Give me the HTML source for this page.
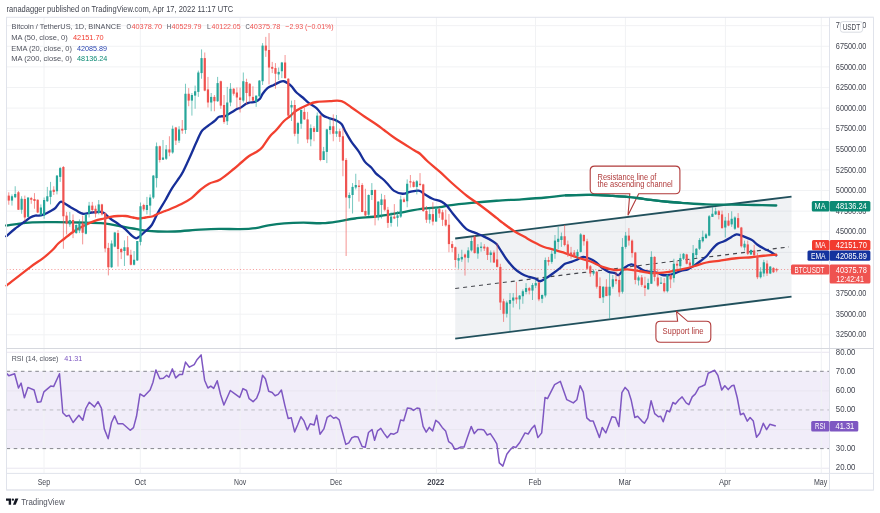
<!DOCTYPE html>
<html><head><meta charset="utf-8"><style>
html,body{margin:0;padding:0;background:#fff;width:880px;height:513px;overflow:hidden}
svg{display:block;position:absolute;left:0;top:0;will-change:transform}
text{font-family:"Liberation Sans", sans-serif}
</style></head><body>
<svg width="880" height="513" viewBox="0 0 880 513">
<defs><clipPath id="cp"><rect x="6.5" y="17.8" width="823" height="330.5"/></clipPath></defs>
<rect x="6.5" y="371.30" width="823.0" height="77.30" fill="#f1edf9"/>
<line x1="6.5" x2="829.5" y1="25.65" y2="25.65" stroke="#f1f2f4" stroke-width="1"/>
<line x1="6.5" x2="829.5" y1="46.26" y2="46.26" stroke="#f1f2f4" stroke-width="1"/>
<line x1="6.5" x2="829.5" y1="66.87" y2="66.87" stroke="#f1f2f4" stroke-width="1"/>
<line x1="6.5" x2="829.5" y1="87.48" y2="87.48" stroke="#f1f2f4" stroke-width="1"/>
<line x1="6.5" x2="829.5" y1="108.09" y2="108.09" stroke="#f1f2f4" stroke-width="1"/>
<line x1="6.5" x2="829.5" y1="128.70" y2="128.70" stroke="#f1f2f4" stroke-width="1"/>
<line x1="6.5" x2="829.5" y1="149.31" y2="149.31" stroke="#f1f2f4" stroke-width="1"/>
<line x1="6.5" x2="829.5" y1="169.92" y2="169.92" stroke="#f1f2f4" stroke-width="1"/>
<line x1="6.5" x2="829.5" y1="190.53" y2="190.53" stroke="#f1f2f4" stroke-width="1"/>
<line x1="6.5" x2="829.5" y1="211.14" y2="211.14" stroke="#f1f2f4" stroke-width="1"/>
<line x1="6.5" x2="829.5" y1="231.75" y2="231.75" stroke="#f1f2f4" stroke-width="1"/>
<line x1="6.5" x2="829.5" y1="252.36" y2="252.36" stroke="#f1f2f4" stroke-width="1"/>
<line x1="6.5" x2="829.5" y1="272.97" y2="272.97" stroke="#f1f2f4" stroke-width="1"/>
<line x1="6.5" x2="829.5" y1="293.58" y2="293.58" stroke="#f1f2f4" stroke-width="1"/>
<line x1="6.5" x2="829.5" y1="314.19" y2="314.19" stroke="#f1f2f4" stroke-width="1"/>
<line x1="6.5" x2="829.5" y1="334.80" y2="334.80" stroke="#f1f2f4" stroke-width="1"/>
<line x1="6.5" x2="829.5" y1="352.28" y2="352.28" stroke="#e9e6f0" stroke-width="1"/>
<line x1="6.5" x2="829.5" y1="390.93" y2="390.93" stroke="#e9e6f0" stroke-width="1"/>
<line x1="6.5" x2="829.5" y1="429.58" y2="429.58" stroke="#e9e6f0" stroke-width="1"/>
<line x1="6.5" x2="829.5" y1="468.23" y2="468.23" stroke="#e9e6f0" stroke-width="1"/>
<line x1="44.00" x2="44.00" y1="17.3" y2="473.4" stroke="#f1f2f4" stroke-width="1"/>
<line x1="140.30" x2="140.30" y1="17.3" y2="473.4" stroke="#f1f2f4" stroke-width="1"/>
<line x1="240.10" x2="240.10" y1="17.3" y2="473.4" stroke="#f1f2f4" stroke-width="1"/>
<line x1="336.40" x2="336.40" y1="17.3" y2="473.4" stroke="#f1f2f4" stroke-width="1"/>
<line x1="436.40" x2="436.40" y1="17.3" y2="473.4" stroke="#f1f2f4" stroke-width="1"/>
<line x1="535.50" x2="535.50" y1="17.3" y2="473.4" stroke="#f1f2f4" stroke-width="1"/>
<line x1="625.40" x2="625.40" y1="17.3" y2="473.4" stroke="#f1f2f4" stroke-width="1"/>
<line x1="725.40" x2="725.40" y1="17.3" y2="473.4" stroke="#f1f2f4" stroke-width="1"/>
<line x1="821.30" x2="821.30" y1="17.3" y2="473.4" stroke="#f1f2f4" stroke-width="1"/>
<line x1="6.5" x2="829.5" y1="371.30" y2="371.30" stroke="#85878e" stroke-width="1" stroke-dasharray="3.6 3.6"/>
<line x1="6.5" x2="829.5" y1="409.95" y2="409.95" stroke="#bdbec3" stroke-width="1" stroke-dasharray="3.6 3.6"/>
<line x1="6.5" x2="829.5" y1="448.60" y2="448.60" stroke="#85878e" stroke-width="1" stroke-dasharray="3.6 3.6"/>
<polygon points="455.2,238.51 791.5,196.57 791.5,296.55 455.2,338.72" fill="rgb(105,125,150)" fill-opacity="0.1"/>
<line x1="6.5" x2="829.5" y1="269.5" y2="269.5" stroke="#ef5350" stroke-width="1" stroke-dasharray="1 2.2" opacity="0.6"/>
<line x1="455.2" y1="238.51" x2="791.5" y2="196.57" stroke="#21505c" stroke-width="1.8"/>
<line x1="455.2" y1="338.72" x2="791.5" y2="296.55" stroke="#21505c" stroke-width="1.8"/>
<line x1="455.2" y1="288.51" x2="789.0" y2="246.88" stroke="#45474d" stroke-width="1.1" stroke-dasharray="4 4"/>
<path d="M6.25,225.50 C10.04,225.02 21.04,223.15 29.00,222.60 C36.96,222.05 45.67,222.22 54.00,222.20 C62.33,222.18 70.67,222.32 79.00,222.50 C87.33,222.68 97.08,222.68 104.00,223.30 C110.92,223.93 115.67,225.38 120.50,226.25 C125.33,227.12 128.83,227.78 133.00,228.50 C137.17,229.22 141.33,230.10 145.50,230.60 C149.67,231.10 153.08,231.35 158.00,231.50 C162.92,231.65 168.00,231.80 175.00,231.50 C182.00,231.20 192.65,230.13 200.00,229.70 C207.35,229.27 212.47,229.00 219.10,228.90 C225.73,228.80 233.70,229.23 239.80,229.10 C245.90,228.97 250.93,228.72 255.70,228.10 C260.47,227.48 263.63,226.18 268.40,225.40 C273.17,224.62 278.47,223.85 284.30,223.40 C290.13,222.95 297.03,222.73 303.40,222.70 C309.77,222.67 316.40,223.47 322.50,223.20 C328.60,222.93 334.58,221.88 340.00,221.10 C345.42,220.32 348.33,219.35 355.00,218.50 C361.67,217.65 371.67,217.12 380.00,216.00 C388.33,214.88 398.12,212.98 405.00,211.80 C411.88,210.62 415.42,209.68 421.25,208.90 C427.08,208.12 435.38,207.68 440.00,207.10 C444.62,206.52 443.75,206.10 449.00,205.40 C454.25,204.70 463.58,203.68 471.50,202.90 C479.42,202.12 488.17,201.35 496.50,200.75 C504.83,200.15 513.27,199.84 521.50,199.30 C529.73,198.76 538.65,198.15 545.90,197.50 C553.15,196.85 557.57,195.85 565.00,195.40 C572.43,194.95 582.55,194.72 590.50,194.80 C598.45,194.88 605.55,195.45 612.70,195.90 C619.85,196.35 627.03,196.83 633.40,197.50 C639.77,198.17 644.80,199.15 650.90,199.90 C657.00,200.65 664.90,201.52 670.00,202.00 C675.10,202.48 675.42,202.40 681.50,202.80 C687.58,203.20 698.17,204.10 706.50,204.40 C714.83,204.70 723.58,204.50 731.50,204.60 C739.42,204.70 746.54,204.85 754.00,205.00 C761.46,205.15 772.54,205.42 776.25,205.50" fill="none" stroke="#0b7d69" stroke-width="2.3" stroke-linejoin="round" stroke-linecap="round"/>
<path d="M6.25,236.25 C7.71,235.00 11.83,231.25 15.00,228.75 C18.17,226.25 22.71,223.12 25.25,221.25 C27.79,219.38 28.58,218.44 30.25,217.50 C31.92,216.56 33.79,215.92 35.25,215.60 C36.71,215.28 37.54,215.80 39.00,215.60 C40.46,215.40 42.12,215.12 44.00,214.40 C45.88,213.68 48.38,212.30 50.25,211.25 C52.12,210.20 53.58,209.66 55.25,208.10 C56.92,206.54 58.79,202.73 60.25,201.90 C61.71,201.07 62.33,202.27 64.00,203.10 C65.67,203.93 68.17,205.65 70.25,206.90 C72.33,208.15 74.38,209.46 76.50,210.60 C78.62,211.74 80.46,213.43 83.00,213.75 C85.54,214.07 88.83,212.81 91.75,212.50 C94.67,212.19 98.42,211.80 100.50,211.90 C102.58,212.00 102.58,211.96 104.25,213.10 C105.92,214.24 108.21,216.97 110.50,218.75 C112.79,220.53 115.50,221.97 118.00,223.75 C120.50,225.53 123.21,227.43 125.50,229.40 C127.79,231.38 130.08,234.15 131.75,235.60 C133.42,237.05 134.46,237.78 135.50,238.10 C136.54,238.42 136.33,238.64 138.00,237.50 C139.67,236.36 143.21,233.33 145.50,231.25 C147.79,229.17 149.67,228.12 151.75,225.00 C153.83,221.88 155.71,216.67 158.00,212.50 C160.29,208.33 163.15,204.07 165.50,200.00 C167.85,195.93 169.43,192.37 172.10,188.10 C174.77,183.83 179.10,178.35 181.50,174.40 C183.90,170.45 184.88,167.80 186.50,164.40 C188.12,161.00 189.62,157.65 191.25,154.00 C192.88,150.35 194.58,146.18 196.25,142.50 C197.92,138.82 199.79,134.30 201.25,131.90 C202.71,129.50 203.54,129.35 205.00,128.10 C206.46,126.85 208.33,125.65 210.00,124.40 C211.67,123.15 213.54,121.85 215.00,120.60 C216.46,119.35 217.60,117.62 218.75,116.90 C219.90,116.18 220.86,116.36 221.90,116.25 C222.94,116.14 223.44,116.88 225.00,116.25 C226.56,115.62 229.17,113.75 231.25,112.50 C233.33,111.25 236.04,109.48 237.50,108.75 C238.96,108.02 238.54,108.93 240.00,108.10 C241.46,107.27 244.58,104.68 246.25,103.75 C247.92,102.82 248.54,102.81 250.00,102.50 C251.46,102.19 253.33,102.53 255.00,101.90 C256.67,101.28 258.75,100.07 260.00,98.75 C261.25,97.43 261.25,95.78 262.50,94.00 C263.75,92.22 265.62,89.60 267.50,88.10 C269.38,86.60 271.67,86.03 273.75,85.00 C275.83,83.97 278.33,82.53 280.00,81.90 C281.67,81.28 282.50,81.05 283.75,81.25 C285.00,81.45 286.21,82.27 287.50,83.10 C288.79,83.93 290.00,84.68 291.50,86.25 C293.00,87.82 294.62,90.62 296.50,92.50 C298.38,94.38 300.67,95.73 302.75,97.50 C304.83,99.27 306.71,101.33 309.00,103.10 C311.29,104.87 314.25,106.12 316.50,108.10 C318.75,110.08 320.42,113.33 322.50,115.00 C324.58,116.67 326.67,117.17 329.00,118.10 C331.33,119.03 334.42,119.62 336.50,120.60 C338.58,121.58 340.04,122.22 341.50,124.00 C342.96,125.78 343.58,128.27 345.25,131.25 C346.92,134.23 349.21,138.46 351.50,141.90 C353.79,145.34 356.75,148.57 359.00,151.90 C361.25,155.23 362.96,159.30 365.00,161.90 C367.04,164.50 369.48,165.63 371.25,167.50 C373.02,169.37 373.73,171.22 375.60,173.10 C377.48,174.97 380.52,176.97 382.50,178.75 C384.48,180.53 385.62,181.78 387.50,183.75 C389.38,185.72 391.25,188.93 393.75,190.60 C396.25,192.27 399.79,193.53 402.50,193.75 C405.21,193.97 407.29,192.43 410.00,191.90 C412.71,191.38 416.25,190.18 418.75,190.60 C421.25,191.02 422.71,193.04 425.00,194.40 C427.29,195.76 429.75,197.55 432.50,198.75 C435.25,199.95 439.17,200.49 441.50,201.60 C443.83,202.71 444.62,203.42 446.50,205.40 C448.38,207.38 450.67,210.90 452.75,213.50 C454.83,216.10 456.71,218.40 459.00,221.00 C461.29,223.60 463.79,227.12 466.50,229.10 C469.21,231.08 472.33,231.65 475.25,232.90 C478.17,234.15 481.29,235.35 484.00,236.60 C486.71,237.85 489.42,239.15 491.50,240.40 C493.58,241.65 494.83,242.23 496.50,244.10 C498.17,245.97 499.83,249.08 501.50,251.60 C503.17,254.12 504.42,256.45 506.50,259.20 C508.58,261.95 511.50,265.68 514.00,268.10 C516.50,270.53 519.00,272.28 521.50,273.75 C524.00,275.22 526.71,276.11 529.00,276.90 C531.29,277.69 533.42,277.77 535.25,278.50 C537.08,279.23 538.17,281.32 540.00,281.25 C541.83,281.18 544.17,279.35 546.25,278.10 C548.33,276.85 550.21,275.42 552.50,273.75 C554.79,272.08 557.92,269.77 560.00,268.10 C562.08,266.43 563.12,264.78 565.00,263.75 C566.88,262.72 569.17,262.62 571.25,261.90 C573.33,261.17 575.52,260.23 577.50,259.40 C579.48,258.57 581.02,257.01 583.10,256.90 C585.18,256.79 587.81,257.82 590.00,258.75 C592.19,259.68 594.17,260.94 596.25,262.50 C598.33,264.06 600.42,266.53 602.50,268.10 C604.58,269.67 606.67,271.07 608.75,271.90 C610.83,272.73 613.33,272.58 615.00,273.10 C616.67,273.62 617.08,275.93 618.75,275.00 C620.42,274.07 622.92,269.27 625.00,267.50 C627.08,265.73 629.17,264.50 631.25,264.40 C633.33,264.30 635.42,265.87 637.50,266.90 C639.58,267.93 641.62,269.77 643.75,270.60 C645.88,271.43 648.12,271.58 650.25,271.90 C652.38,272.22 654.42,271.98 656.50,272.50 C658.58,273.02 660.67,274.58 662.75,275.00 C664.83,275.42 666.92,275.32 669.00,275.00 C671.08,274.68 673.17,273.83 675.25,273.10 C677.33,272.37 679.42,271.22 681.50,270.60 C683.58,269.98 685.67,270.23 687.75,269.40 C689.83,268.57 691.92,266.96 694.00,265.60 C696.08,264.24 698.17,262.81 700.25,261.25 C702.33,259.69 704.62,258.12 706.50,256.25 C708.38,254.38 709.62,252.08 711.50,250.00 C713.38,247.92 715.67,245.21 717.75,243.75 C719.83,242.29 721.71,242.39 724.00,241.25 C726.29,240.11 729.42,238.04 731.50,236.90 C733.58,235.76 734.83,234.62 736.50,234.40 C738.17,234.18 739.62,234.98 741.50,235.60 C743.38,236.22 745.92,237.30 747.75,238.10 C749.58,238.90 750.88,239.29 752.50,240.40 C754.12,241.51 755.62,243.40 757.50,244.75 C759.38,246.10 761.67,247.36 763.75,248.50 C765.83,249.64 767.92,250.45 770.00,251.60 C772.08,252.75 775.21,254.77 776.25,255.40" fill="none" stroke="#172f99" stroke-width="2.3" stroke-linejoin="round" stroke-linecap="round"/>
<path d="M6.50,285.60 C10.42,282.55 24.00,271.80 30.00,267.30 C36.00,262.80 38.75,261.48 42.50,258.60 C46.25,255.72 49.92,252.47 52.50,250.00 C55.08,247.53 56.04,245.62 58.00,243.75 C59.96,241.88 62.17,240.42 64.25,238.75 C66.33,237.08 68.42,235.31 70.50,233.75 C72.58,232.19 74.67,230.65 76.75,229.40 C78.83,228.15 80.92,227.30 83.00,226.25 C85.08,225.20 87.17,224.04 89.25,223.10 C91.33,222.16 93.00,221.37 95.50,220.60 C98.00,219.83 101.75,219.12 104.25,218.50 C106.75,217.88 108.21,217.32 110.50,216.90 C112.79,216.48 115.50,216.15 118.00,216.00 C120.50,215.85 123.00,215.75 125.50,216.00 C128.00,216.25 130.92,217.08 133.00,217.50 C135.08,217.92 135.92,218.50 138.00,218.50 C140.08,218.50 143.00,217.88 145.50,217.50 C148.00,217.12 150.92,216.88 153.00,216.25 C155.08,215.62 156.12,214.58 158.00,213.75 C159.88,212.92 162.58,211.88 164.25,211.25 C165.92,210.62 165.12,211.21 168.00,210.00 C170.88,208.79 177.58,205.98 181.50,204.00 C185.42,202.02 188.38,200.43 191.50,198.10 C194.62,195.77 197.33,192.39 200.25,190.00 C203.17,187.61 205.67,185.52 209.00,183.75 C212.33,181.98 216.12,181.86 220.25,179.40 C224.38,176.94 230.25,171.82 233.75,169.00 C237.25,166.18 238.75,164.62 241.25,162.50 C243.75,160.38 246.04,158.12 248.75,156.25 C251.46,154.38 255.21,152.81 257.50,151.25 C259.79,149.69 260.42,149.40 262.50,146.90 C264.58,144.40 267.71,139.07 270.00,136.25 C272.29,133.43 273.96,132.50 276.25,130.00 C278.54,127.50 281.46,123.54 283.75,121.25 C286.04,118.96 287.88,118.04 290.00,116.25 C292.12,114.46 293.33,112.51 296.50,110.50 C299.67,108.49 305.67,105.62 309.00,104.20 C312.33,102.78 313.00,102.52 316.50,102.00 C320.00,101.48 325.83,101.23 330.00,101.10 C334.17,100.97 337.92,100.13 341.50,101.20 C345.08,102.27 347.75,104.99 351.50,107.50 C355.25,110.01 359.83,113.42 364.00,116.25 C368.17,119.08 373.17,122.21 376.50,124.50 C379.83,126.79 381.08,127.83 384.00,130.00 C386.92,132.17 389.04,134.17 394.00,137.50 C398.96,140.83 409.42,147.29 413.75,150.00 C418.08,152.71 417.71,151.88 420.00,153.75 C422.29,155.62 424.17,158.22 427.50,161.25 C430.83,164.28 435.75,168.11 440.00,171.90 C444.25,175.69 448.48,179.98 453.00,184.00 C457.52,188.02 462.98,192.75 467.10,196.00 C471.23,199.25 474.31,201.00 477.75,203.50 C481.19,206.00 484.62,208.60 487.75,211.00 C490.88,213.40 494.00,215.92 496.50,217.90 C499.00,219.88 499.83,220.72 502.75,222.90 C505.67,225.08 510.46,228.72 514.00,231.00 C517.54,233.28 520.67,234.72 524.00,236.60 C527.33,238.47 530.67,240.52 534.00,242.25 C537.33,243.98 540.92,245.81 544.00,247.00 C547.08,248.19 549.00,248.38 552.50,249.40 C556.00,250.42 560.83,251.75 565.00,253.10 C569.17,254.45 573.33,256.14 577.50,257.50 C581.67,258.86 585.83,259.68 590.00,261.25 C594.17,262.82 598.33,265.44 602.50,266.90 C606.67,268.36 610.83,269.58 615.00,270.00 C619.17,270.42 623.33,269.19 627.50,269.40 C631.67,269.61 636.25,270.65 640.00,271.25 C643.75,271.85 647.25,272.69 650.00,273.00 C652.75,273.31 653.33,273.28 656.50,273.10 C659.67,272.92 664.83,272.52 669.00,271.90 C673.17,271.28 677.33,270.34 681.50,269.40 C685.67,268.46 689.83,267.40 694.00,266.25 C698.17,265.10 702.33,263.41 706.50,262.50 C710.67,261.59 714.04,261.51 719.00,260.80 C723.96,260.09 730.88,258.84 736.25,258.25 C741.62,257.66 746.67,257.67 751.25,257.25 C755.83,256.83 759.58,256.17 763.75,255.75 C767.92,255.33 774.17,254.92 776.25,254.75" fill="none" stroke="#f2402f" stroke-width="2.3" stroke-linejoin="round" stroke-linecap="round"/>
<g clip-path="url(#cp)"><line x1="5.55" x2="5.55" y1="195.6" y2="217.5" stroke="#26a69a" stroke-width="1" stroke-opacity="0.62"/><rect x="4.45" y="200.0" width="2.2" height="12.00" fill="#26a69a"/><line x1="8.77" x2="8.77" y1="192.3" y2="204.75" stroke="#ef5350" stroke-width="1" stroke-opacity="0.62"/><rect x="7.67" y="195.6" width="2.2" height="5.00" fill="#ef5350"/><line x1="11.98" x2="11.98" y1="194.4" y2="205.6" stroke="#26a69a" stroke-width="1" stroke-opacity="0.62"/><rect x="10.88" y="196.25" width="2.2" height="4.35" fill="#26a69a"/><line x1="15.19" x2="15.19" y1="186.25" y2="198.1" stroke="#26a69a" stroke-width="1" stroke-opacity="0.62"/><rect x="14.09" y="194.0" width="2.2" height="3.25" fill="#26a69a"/><line x1="18.41" x2="18.41" y1="191.0" y2="210.0" stroke="#ef5350" stroke-width="1" stroke-opacity="0.62"/><rect x="17.31" y="192.25" width="2.2" height="17.50" fill="#ef5350"/><line x1="21.62" x2="21.62" y1="196.25" y2="213.75" stroke="#26a69a" stroke-width="1" stroke-opacity="0.62"/><rect x="20.52" y="198.75" width="2.2" height="11.00" fill="#26a69a"/><line x1="24.83" x2="24.83" y1="195.6" y2="221.25" stroke="#ef5350" stroke-width="1" stroke-opacity="0.62"/><rect x="23.73" y="199.0" width="2.2" height="18.50" fill="#ef5350"/><line x1="28.05" x2="28.05" y1="197.5" y2="217.5" stroke="#26a69a" stroke-width="1" stroke-opacity="0.62"/><rect x="26.95" y="197.5" width="2.2" height="19.40" fill="#26a69a"/><line x1="31.26" x2="31.26" y1="196.9" y2="203.75" stroke="#ef5350" stroke-width="1" stroke-opacity="0.62"/><rect x="30.16" y="198.1" width="2.2" height="1.65" fill="#ef5350"/><line x1="34.47" x2="34.47" y1="193.1" y2="208.75" stroke="#ef5350" stroke-width="1" stroke-opacity="0.62"/><rect x="33.37" y="199.0" width="2.2" height="2.00" fill="#ef5350"/><line x1="37.68" x2="37.68" y1="199.4" y2="213.1" stroke="#ef5350" stroke-width="1" stroke-opacity="0.62"/><rect x="36.58" y="199.75" width="2.2" height="12.75" fill="#ef5350"/><line x1="40.90" x2="40.90" y1="204.4" y2="216.9" stroke="#26a69a" stroke-width="1" stroke-opacity="0.62"/><rect x="39.80" y="207.5" width="2.2" height="7.50" fill="#26a69a"/><line x1="44.11" x2="44.11" y1="197.5" y2="218.75" stroke="#26a69a" stroke-width="1" stroke-opacity="0.62"/><rect x="43.01" y="200.0" width="2.2" height="15.60" fill="#26a69a"/><line x1="47.32" x2="47.32" y1="186.9" y2="201.9" stroke="#26a69a" stroke-width="1" stroke-opacity="0.62"/><rect x="46.22" y="196.25" width="2.2" height="5.00" fill="#26a69a"/><line x1="50.54" x2="50.54" y1="181.9" y2="204.4" stroke="#26a69a" stroke-width="1" stroke-opacity="0.62"/><rect x="49.44" y="190.6" width="2.2" height="6.30" fill="#26a69a"/><line x1="53.75" x2="53.75" y1="186.25" y2="195.0" stroke="#ef5350" stroke-width="1" stroke-opacity="0.62"/><rect x="52.65" y="189.75" width="2.2" height="2.15" fill="#ef5350"/><line x1="56.96" x2="56.96" y1="175.0" y2="194.4" stroke="#26a69a" stroke-width="1" stroke-opacity="0.62"/><rect x="55.86" y="175.6" width="2.2" height="15.65" fill="#26a69a"/><line x1="60.18" x2="60.18" y1="166.9" y2="181.9" stroke="#26a69a" stroke-width="1" stroke-opacity="0.62"/><rect x="59.08" y="168.1" width="2.2" height="8.80" fill="#26a69a"/><line x1="63.39" x2="63.39" y1="166.0" y2="248.75" stroke="#ef5350" stroke-width="1" stroke-opacity="0.62"/><rect x="62.29" y="167.0" width="2.2" height="49.25" fill="#ef5350"/><line x1="66.60" x2="66.60" y1="211.9" y2="234.4" stroke="#ef5350" stroke-width="1" stroke-opacity="0.62"/><rect x="65.50" y="215.6" width="2.2" height="8.15" fill="#ef5350"/><line x1="69.81" x2="69.81" y1="211.9" y2="226.9" stroke="#26a69a" stroke-width="1" stroke-opacity="0.62"/><rect x="68.71" y="220.0" width="2.2" height="4.40" fill="#26a69a"/><line x1="73.03" x2="73.03" y1="214.4" y2="238.1" stroke="#ef5350" stroke-width="1" stroke-opacity="0.62"/><rect x="71.93" y="220.0" width="2.2" height="11.25" fill="#ef5350"/><line x1="76.24" x2="76.24" y1="224.4" y2="233.75" stroke="#26a69a" stroke-width="1" stroke-opacity="0.62"/><rect x="75.14" y="225.0" width="2.2" height="8.10" fill="#26a69a"/><line x1="79.45" x2="79.45" y1="219.4" y2="233.1" stroke="#26a69a" stroke-width="1" stroke-opacity="0.62"/><rect x="78.35" y="223.1" width="2.2" height="7.50" fill="#26a69a"/><line x1="82.67" x2="82.67" y1="215.6" y2="244.4" stroke="#ef5350" stroke-width="1" stroke-opacity="0.62"/><rect x="81.57" y="223.1" width="2.2" height="9.65" fill="#ef5350"/><line x1="85.88" x2="85.88" y1="213.75" y2="234.4" stroke="#26a69a" stroke-width="1" stroke-opacity="0.62"/><rect x="84.78" y="214.4" width="2.2" height="19.35" fill="#26a69a"/><line x1="89.09" x2="89.09" y1="201.9" y2="217.5" stroke="#26a69a" stroke-width="1" stroke-opacity="0.62"/><rect x="87.99" y="205.6" width="2.2" height="8.15" fill="#26a69a"/><line x1="92.31" x2="92.31" y1="201.9" y2="212.5" stroke="#ef5350" stroke-width="1" stroke-opacity="0.62"/><rect x="91.21" y="205.6" width="2.2" height="4.40" fill="#ef5350"/><line x1="95.52" x2="95.52" y1="205.6" y2="217.5" stroke="#ef5350" stroke-width="1" stroke-opacity="0.62"/><rect x="94.42" y="208.75" width="2.2" height="5.00" fill="#ef5350"/><line x1="98.73" x2="98.73" y1="200.0" y2="214.4" stroke="#26a69a" stroke-width="1" stroke-opacity="0.62"/><rect x="97.63" y="204.4" width="2.2" height="8.70" fill="#26a69a"/><line x1="101.94" x2="101.94" y1="203.75" y2="215.6" stroke="#ef5350" stroke-width="1" stroke-opacity="0.62"/><rect x="100.84" y="204.4" width="2.2" height="10.00" fill="#ef5350"/><line x1="105.16" x2="105.16" y1="212.5" y2="252.25" stroke="#ef5350" stroke-width="1" stroke-opacity="0.62"/><rect x="104.06" y="213.1" width="2.2" height="35.40" fill="#ef5350"/><line x1="108.37" x2="108.37" y1="242.9" y2="275.4" stroke="#ef5350" stroke-width="1" stroke-opacity="0.62"/><rect x="107.27" y="247.9" width="2.2" height="19.35" fill="#ef5350"/><line x1="111.58" x2="111.58" y1="240.4" y2="267.9" stroke="#26a69a" stroke-width="1" stroke-opacity="0.62"/><rect x="110.48" y="243.5" width="2.2" height="23.75" fill="#26a69a"/><line x1="114.80" x2="114.80" y1="231.9" y2="247.25" stroke="#26a69a" stroke-width="1" stroke-opacity="0.62"/><rect x="113.70" y="232.5" width="2.2" height="14.10" fill="#26a69a"/><line x1="118.01" x2="118.01" y1="230.0" y2="266.6" stroke="#ef5350" stroke-width="1" stroke-opacity="0.62"/><rect x="116.91" y="233.1" width="2.2" height="15.90" fill="#ef5350"/><line x1="121.22" x2="121.22" y1="247.9" y2="259.1" stroke="#ef5350" stroke-width="1" stroke-opacity="0.62"/><rect x="120.12" y="249.0" width="2.2" height="3.25" fill="#ef5350"/><line x1="124.44" x2="124.44" y1="240.4" y2="266.0" stroke="#26a69a" stroke-width="1" stroke-opacity="0.62"/><rect x="123.34" y="247.25" width="2.2" height="3.75" fill="#26a69a"/><line x1="127.65" x2="127.65" y1="236.0" y2="255.4" stroke="#ef5350" stroke-width="1" stroke-opacity="0.62"/><rect x="126.55" y="247.25" width="2.2" height="8.15" fill="#ef5350"/><line x1="130.86" x2="130.86" y1="249.75" y2="265.4" stroke="#ef5350" stroke-width="1" stroke-opacity="0.62"/><rect x="129.76" y="254.75" width="2.2" height="10.00" fill="#ef5350"/><line x1="134.07" x2="134.07" y1="251.0" y2="265.4" stroke="#26a69a" stroke-width="1" stroke-opacity="0.62"/><rect x="132.97" y="259.75" width="2.2" height="5.00" fill="#26a69a"/><line x1="137.29" x2="137.29" y1="241.0" y2="261.0" stroke="#26a69a" stroke-width="1" stroke-opacity="0.62"/><rect x="136.19" y="241.0" width="2.2" height="19.40" fill="#26a69a"/><line x1="140.50" x2="140.50" y1="202.5" y2="245.4" stroke="#26a69a" stroke-width="1" stroke-opacity="0.62"/><rect x="139.40" y="206.25" width="2.2" height="35.65" fill="#26a69a"/><line x1="143.71" x2="143.71" y1="203.75" y2="211.25" stroke="#ef5350" stroke-width="1" stroke-opacity="0.62"/><rect x="142.61" y="205.0" width="2.2" height="4.40" fill="#ef5350"/><line x1="146.93" x2="146.93" y1="196.9" y2="214.4" stroke="#26a69a" stroke-width="1" stroke-opacity="0.62"/><rect x="145.83" y="205.0" width="2.2" height="5.00" fill="#26a69a"/><line x1="150.14" x2="150.14" y1="194.4" y2="215.6" stroke="#26a69a" stroke-width="1" stroke-opacity="0.62"/><rect x="149.04" y="197.5" width="2.2" height="8.10" fill="#26a69a"/><line x1="153.35" x2="153.35" y1="175.0" y2="199.0" stroke="#26a69a" stroke-width="1" stroke-opacity="0.62"/><rect x="152.25" y="175.6" width="2.2" height="21.90" fill="#26a69a"/><line x1="156.56" x2="156.56" y1="142.5" y2="187.5" stroke="#26a69a" stroke-width="1" stroke-opacity="0.62"/><rect x="155.47" y="146.25" width="2.2" height="31.85" fill="#26a69a"/><line x1="159.78" x2="159.78" y1="145.6" y2="162.5" stroke="#ef5350" stroke-width="1" stroke-opacity="0.62"/><rect x="158.68" y="146.25" width="2.2" height="13.75" fill="#ef5350"/><line x1="162.99" x2="162.99" y1="140.0" y2="160.0" stroke="#26a69a" stroke-width="1" stroke-opacity="0.62"/><rect x="161.89" y="157.5" width="2.2" height="2.25" fill="#26a69a"/><line x1="166.20" x2="166.20" y1="145.0" y2="160.0" stroke="#26a69a" stroke-width="1" stroke-opacity="0.62"/><rect x="165.10" y="149.4" width="2.2" height="9.35" fill="#26a69a"/><line x1="169.42" x2="169.42" y1="136.25" y2="156.25" stroke="#ef5350" stroke-width="1" stroke-opacity="0.62"/><rect x="168.32" y="149.4" width="2.2" height="3.10" fill="#ef5350"/><line x1="172.63" x2="172.63" y1="125.6" y2="153.75" stroke="#26a69a" stroke-width="1" stroke-opacity="0.62"/><rect x="171.53" y="128.75" width="2.2" height="23.75" fill="#26a69a"/><line x1="175.84" x2="175.84" y1="126.9" y2="145.0" stroke="#ef5350" stroke-width="1" stroke-opacity="0.62"/><rect x="174.74" y="127.5" width="2.2" height="13.10" fill="#ef5350"/><line x1="179.06" x2="179.06" y1="126.25" y2="143.0" stroke="#26a69a" stroke-width="1" stroke-opacity="0.62"/><rect x="177.96" y="129.4" width="2.2" height="11.20" fill="#26a69a"/><line x1="182.27" x2="182.27" y1="120.0" y2="133.75" stroke="#ef5350" stroke-width="1" stroke-opacity="0.62"/><rect x="181.17" y="128.75" width="2.2" height="1.85" fill="#ef5350"/><line x1="185.48" x2="185.48" y1="83.75" y2="133.75" stroke="#26a69a" stroke-width="1" stroke-opacity="0.62"/><rect x="184.38" y="93.75" width="2.2" height="36.25" fill="#26a69a"/><line x1="188.69" x2="188.69" y1="88.1" y2="106.25" stroke="#ef5350" stroke-width="1" stroke-opacity="0.62"/><rect x="187.59" y="93.75" width="2.2" height="6.85" fill="#ef5350"/><line x1="191.91" x2="191.91" y1="93.0" y2="115.6" stroke="#26a69a" stroke-width="1" stroke-opacity="0.62"/><rect x="190.81" y="95.0" width="2.2" height="5.60" fill="#26a69a"/><line x1="195.12" x2="195.12" y1="85.6" y2="108.75" stroke="#26a69a" stroke-width="1" stroke-opacity="0.62"/><rect x="194.02" y="91.25" width="2.2" height="4.35" fill="#26a69a"/><line x1="198.33" x2="198.33" y1="70.6" y2="96.9" stroke="#26a69a" stroke-width="1" stroke-opacity="0.62"/><rect x="197.23" y="72.5" width="2.2" height="19.40" fill="#26a69a"/><line x1="201.55" x2="201.55" y1="49.4" y2="78.75" stroke="#26a69a" stroke-width="1" stroke-opacity="0.62"/><rect x="200.45" y="58.1" width="2.2" height="15.00" fill="#26a69a"/><line x1="204.76" x2="204.76" y1="52.5" y2="91.25" stroke="#ef5350" stroke-width="1" stroke-opacity="0.62"/><rect x="203.66" y="58.1" width="2.2" height="32.50" fill="#ef5350"/><line x1="207.97" x2="207.97" y1="76.9" y2="107.5" stroke="#ef5350" stroke-width="1" stroke-opacity="0.62"/><rect x="206.87" y="89.4" width="2.2" height="13.10" fill="#ef5350"/><line x1="211.19" x2="211.19" y1="93.0" y2="111.25" stroke="#26a69a" stroke-width="1" stroke-opacity="0.62"/><rect x="210.09" y="96.9" width="2.2" height="5.60" fill="#26a69a"/><line x1="214.40" x2="214.40" y1="95.0" y2="111.25" stroke="#ef5350" stroke-width="1" stroke-opacity="0.62"/><rect x="213.30" y="96.9" width="2.2" height="4.35" fill="#ef5350"/><line x1="217.61" x2="217.61" y1="76.9" y2="101.9" stroke="#26a69a" stroke-width="1" stroke-opacity="0.62"/><rect x="216.51" y="83.1" width="2.2" height="18.15" fill="#26a69a"/><line x1="220.82" x2="220.82" y1="80.6" y2="108.75" stroke="#ef5350" stroke-width="1" stroke-opacity="0.62"/><rect x="219.72" y="81.25" width="2.2" height="24.35" fill="#ef5350"/><line x1="224.04" x2="224.04" y1="95.0" y2="123.75" stroke="#ef5350" stroke-width="1" stroke-opacity="0.62"/><rect x="222.94" y="105.0" width="2.2" height="16.90" fill="#ef5350"/><line x1="227.25" x2="227.25" y1="86.9" y2="125.0" stroke="#26a69a" stroke-width="1" stroke-opacity="0.62"/><rect x="226.15" y="102.5" width="2.2" height="18.75" fill="#26a69a"/><line x1="230.46" x2="230.46" y1="83.1" y2="106.25" stroke="#26a69a" stroke-width="1" stroke-opacity="0.62"/><rect x="229.36" y="88.75" width="2.2" height="13.75" fill="#26a69a"/><line x1="233.68" x2="233.68" y1="88.1" y2="95.6" stroke="#ef5350" stroke-width="1" stroke-opacity="0.62"/><rect x="232.58" y="88.75" width="2.2" height="5.00" fill="#ef5350"/><line x1="236.89" x2="236.89" y1="87.5" y2="108.1" stroke="#ef5350" stroke-width="1" stroke-opacity="0.62"/><rect x="235.79" y="92.5" width="2.2" height="5.00" fill="#ef5350"/><line x1="240.10" x2="240.10" y1="87.5" y2="112.5" stroke="#ef5350" stroke-width="1" stroke-opacity="0.62"/><rect x="239.00" y="97.5" width="2.2" height="2.50" fill="#ef5350"/><line x1="243.32" x2="243.32" y1="72.5" y2="102.5" stroke="#26a69a" stroke-width="1" stroke-opacity="0.62"/><rect x="242.22" y="81.25" width="2.2" height="19.35" fill="#26a69a"/><line x1="246.53" x2="246.53" y1="78.75" y2="104.4" stroke="#ef5350" stroke-width="1" stroke-opacity="0.62"/><rect x="245.43" y="82.0" width="2.2" height="11.00" fill="#ef5350"/><line x1="249.74" x2="249.74" y1="83.1" y2="101.25" stroke="#ef5350" stroke-width="1" stroke-opacity="0.62"/><rect x="248.64" y="83.75" width="2.2" height="12.50" fill="#ef5350"/><line x1="252.95" x2="252.95" y1="86.25" y2="101.25" stroke="#ef5350" stroke-width="1" stroke-opacity="0.62"/><rect x="251.85" y="96.9" width="2.2" height="3.70" fill="#ef5350"/><line x1="256.17" x2="256.17" y1="95.6" y2="106.9" stroke="#26a69a" stroke-width="1" stroke-opacity="0.62"/><rect x="255.07" y="95.6" width="2.2" height="6.30" fill="#26a69a"/><line x1="259.38" x2="259.38" y1="80.0" y2="97.5" stroke="#26a69a" stroke-width="1" stroke-opacity="0.62"/><rect x="258.28" y="80.6" width="2.2" height="15.65" fill="#26a69a"/><line x1="262.59" x2="262.59" y1="43.1" y2="85.0" stroke="#26a69a" stroke-width="1" stroke-opacity="0.62"/><rect x="261.49" y="45.6" width="2.2" height="35.65" fill="#26a69a"/><line x1="265.81" x2="265.81" y1="36.9" y2="56.9" stroke="#ef5350" stroke-width="1" stroke-opacity="0.62"/><rect x="264.71" y="45.6" width="2.2" height="5.00" fill="#ef5350"/><line x1="269.02" x2="269.02" y1="33.1" y2="84.4" stroke="#ef5350" stroke-width="1" stroke-opacity="0.62"/><rect x="267.92" y="50.0" width="2.2" height="17.50" fill="#ef5350"/><line x1="272.23" x2="272.23" y1="61.9" y2="73.1" stroke="#ef5350" stroke-width="1" stroke-opacity="0.62"/><rect x="271.13" y="66.9" width="2.2" height="1.85" fill="#ef5350"/><line x1="275.45" x2="275.45" y1="63.1" y2="88.75" stroke="#ef5350" stroke-width="1" stroke-opacity="0.62"/><rect x="274.35" y="68.1" width="2.2" height="5.65" fill="#ef5350"/><line x1="278.66" x2="278.66" y1="67.5" y2="80.0" stroke="#26a69a" stroke-width="1" stroke-opacity="0.62"/><rect x="277.56" y="71.9" width="2.2" height="2.50" fill="#26a69a"/><line x1="281.87" x2="281.87" y1="61.9" y2="78.1" stroke="#26a69a" stroke-width="1" stroke-opacity="0.62"/><rect x="280.77" y="62.5" width="2.2" height="8.75" fill="#26a69a"/><line x1="285.08" x2="285.08" y1="55.0" y2="78.75" stroke="#ef5350" stroke-width="1" stroke-opacity="0.62"/><rect x="283.98" y="62.5" width="2.2" height="15.60" fill="#ef5350"/><line x1="288.30" x2="288.30" y1="78.1" y2="116.25" stroke="#ef5350" stroke-width="1" stroke-opacity="0.62"/><rect x="287.20" y="78.75" width="2.2" height="36.85" fill="#ef5350"/><line x1="291.51" x2="291.51" y1="100.6" y2="121.0" stroke="#26a69a" stroke-width="1" stroke-opacity="0.62"/><rect x="290.41" y="105.0" width="2.2" height="2.50" fill="#26a69a"/><line x1="294.72" x2="294.72" y1="100.0" y2="136.25" stroke="#ef5350" stroke-width="1" stroke-opacity="0.62"/><rect x="293.62" y="105.0" width="2.2" height="28.75" fill="#ef5350"/><line x1="297.94" x2="297.94" y1="121.9" y2="143.75" stroke="#26a69a" stroke-width="1" stroke-opacity="0.62"/><rect x="296.84" y="123.1" width="2.2" height="10.65" fill="#26a69a"/><line x1="301.15" x2="301.15" y1="109.4" y2="128.75" stroke="#26a69a" stroke-width="1" stroke-opacity="0.62"/><rect x="300.05" y="110.0" width="2.2" height="13.75" fill="#26a69a"/><line x1="304.36" x2="304.36" y1="107.5" y2="120.0" stroke="#ef5350" stroke-width="1" stroke-opacity="0.62"/><rect x="303.26" y="111.9" width="2.2" height="7.50" fill="#ef5350"/><line x1="307.58" x2="307.58" y1="111.9" y2="143.1" stroke="#ef5350" stroke-width="1" stroke-opacity="0.62"/><rect x="306.48" y="119.4" width="2.2" height="20.00" fill="#ef5350"/><line x1="310.79" x2="310.79" y1="124.4" y2="146.25" stroke="#26a69a" stroke-width="1" stroke-opacity="0.62"/><rect x="309.69" y="128.1" width="2.2" height="11.30" fill="#26a69a"/><line x1="314.00" x2="314.00" y1="126.25" y2="141.25" stroke="#ef5350" stroke-width="1" stroke-opacity="0.62"/><rect x="312.90" y="128.1" width="2.2" height="3.80" fill="#ef5350"/><line x1="317.21" x2="317.21" y1="112.5" y2="131.9" stroke="#26a69a" stroke-width="1" stroke-opacity="0.62"/><rect x="316.11" y="115.6" width="2.2" height="16.30" fill="#26a69a"/><line x1="320.43" x2="320.43" y1="114.4" y2="161.25" stroke="#ef5350" stroke-width="1" stroke-opacity="0.62"/><rect x="319.33" y="115.6" width="2.2" height="44.40" fill="#ef5350"/><line x1="323.64" x2="323.64" y1="146.9" y2="160.0" stroke="#26a69a" stroke-width="1" stroke-opacity="0.62"/><rect x="322.54" y="151.25" width="2.2" height="8.75" fill="#26a69a"/><line x1="326.85" x2="326.85" y1="128.75" y2="163.1" stroke="#26a69a" stroke-width="1" stroke-opacity="0.62"/><rect x="325.75" y="129.4" width="2.2" height="22.50" fill="#26a69a"/><line x1="330.07" x2="330.07" y1="117.5" y2="134.4" stroke="#26a69a" stroke-width="1" stroke-opacity="0.62"/><rect x="328.97" y="126.25" width="2.2" height="3.75" fill="#26a69a"/><line x1="333.28" x2="333.28" y1="114.4" y2="141.25" stroke="#ef5350" stroke-width="1" stroke-opacity="0.62"/><rect x="332.18" y="126.25" width="2.2" height="7.50" fill="#ef5350"/><line x1="336.49" x2="336.49" y1="115.0" y2="136.9" stroke="#26a69a" stroke-width="1" stroke-opacity="0.62"/><rect x="335.39" y="131.25" width="2.2" height="2.50" fill="#26a69a"/><line x1="339.71" x2="339.71" y1="128.75" y2="141.9" stroke="#ef5350" stroke-width="1" stroke-opacity="0.62"/><rect x="338.61" y="131.25" width="2.2" height="5.65" fill="#ef5350"/><line x1="342.92" x2="342.92" y1="128.1" y2="176.25" stroke="#ef5350" stroke-width="1" stroke-opacity="0.62"/><rect x="341.82" y="136.25" width="2.2" height="24.35" fill="#ef5350"/><line x1="346.13" x2="346.13" y1="158.1" y2="256.0" stroke="#ef5350" stroke-width="1" stroke-opacity="0.62"/><rect x="345.03" y="160.0" width="2.2" height="37.50" fill="#ef5350"/><line x1="349.34" x2="349.34" y1="192.5" y2="208.5" stroke="#26a69a" stroke-width="1" stroke-opacity="0.62"/><rect x="348.24" y="195.0" width="2.2" height="3.10" fill="#26a69a"/><line x1="352.56" x2="352.56" y1="183.1" y2="213.5" stroke="#26a69a" stroke-width="1" stroke-opacity="0.62"/><rect x="351.46" y="186.9" width="2.2" height="8.10" fill="#26a69a"/><line x1="355.77" x2="355.77" y1="173.75" y2="189.4" stroke="#26a69a" stroke-width="1" stroke-opacity="0.62"/><rect x="354.67" y="185.0" width="2.2" height="2.50" fill="#26a69a"/><line x1="358.98" x2="358.98" y1="180.0" y2="201.6" stroke="#ef5350" stroke-width="1" stroke-opacity="0.62"/><rect x="357.88" y="185.6" width="2.2" height="1.30" fill="#ef5350"/><line x1="362.20" x2="362.20" y1="183.1" y2="212.25" stroke="#ef5350" stroke-width="1" stroke-opacity="0.62"/><rect x="361.10" y="185.0" width="2.2" height="27.00" fill="#ef5350"/><line x1="365.41" x2="365.41" y1="188.75" y2="216.6" stroke="#ef5350" stroke-width="1" stroke-opacity="0.62"/><rect x="364.31" y="211.0" width="2.2" height="4.40" fill="#ef5350"/><line x1="368.62" x2="368.62" y1="194.4" y2="216.0" stroke="#26a69a" stroke-width="1" stroke-opacity="0.62"/><rect x="367.52" y="195.0" width="2.2" height="19.75" fill="#26a69a"/><line x1="371.84" x2="371.84" y1="183.1" y2="200.0" stroke="#26a69a" stroke-width="1" stroke-opacity="0.62"/><rect x="370.74" y="190.0" width="2.2" height="5.00" fill="#26a69a"/><line x1="375.05" x2="375.05" y1="189.4" y2="225.4" stroke="#ef5350" stroke-width="1" stroke-opacity="0.62"/><rect x="373.95" y="190.0" width="2.2" height="27.90" fill="#ef5350"/><line x1="378.26" x2="378.26" y1="201.25" y2="220.4" stroke="#26a69a" stroke-width="1" stroke-opacity="0.62"/><rect x="377.16" y="201.6" width="2.2" height="15.65" fill="#26a69a"/><line x1="381.47" x2="381.47" y1="193.75" y2="218.5" stroke="#26a69a" stroke-width="1" stroke-opacity="0.62"/><rect x="380.37" y="199.4" width="2.2" height="5.60" fill="#26a69a"/><line x1="384.69" x2="384.69" y1="195.0" y2="211.25" stroke="#ef5350" stroke-width="1" stroke-opacity="0.62"/><rect x="383.59" y="199.4" width="2.2" height="10.35" fill="#ef5350"/><line x1="387.90" x2="387.90" y1="206.9" y2="227.9" stroke="#ef5350" stroke-width="1" stroke-opacity="0.62"/><rect x="386.80" y="209.75" width="2.2" height="13.15" fill="#ef5350"/><line x1="391.11" x2="391.11" y1="212.25" y2="226.6" stroke="#26a69a" stroke-width="1" stroke-opacity="0.62"/><rect x="390.01" y="216.6" width="2.2" height="6.30" fill="#26a69a"/><line x1="394.33" x2="394.33" y1="204.1" y2="219.1" stroke="#ef5350" stroke-width="1" stroke-opacity="0.62"/><rect x="393.23" y="216.6" width="2.2" height="1.90" fill="#ef5350"/><line x1="397.54" x2="397.54" y1="211.0" y2="226.6" stroke="#26a69a" stroke-width="1" stroke-opacity="0.62"/><rect x="396.44" y="215.4" width="2.2" height="2.50" fill="#26a69a"/><line x1="400.75" x2="400.75" y1="195.6" y2="217.9" stroke="#26a69a" stroke-width="1" stroke-opacity="0.62"/><rect x="399.65" y="199.4" width="2.2" height="17.20" fill="#26a69a"/><line x1="403.97" x2="403.97" y1="197.5" y2="202.5" stroke="#ef5350" stroke-width="1" stroke-opacity="0.62"/><rect x="402.87" y="199.4" width="2.2" height="2.50" fill="#ef5350"/><line x1="407.18" x2="407.18" y1="179.4" y2="207.25" stroke="#26a69a" stroke-width="1" stroke-opacity="0.62"/><rect x="406.08" y="183.75" width="2.2" height="17.50" fill="#26a69a"/><line x1="410.39" x2="410.39" y1="175.0" y2="187.5" stroke="#ef5350" stroke-width="1" stroke-opacity="0.62"/><rect x="409.29" y="181.25" width="2.2" height="1.25" fill="#ef5350"/><line x1="413.61" x2="413.61" y1="180.6" y2="187.5" stroke="#ef5350" stroke-width="1" stroke-opacity="0.62"/><rect x="412.50" y="181.9" width="2.2" height="5.00" fill="#ef5350"/><line x1="416.82" x2="416.82" y1="180.0" y2="194.4" stroke="#26a69a" stroke-width="1" stroke-opacity="0.62"/><rect x="415.72" y="181.25" width="2.2" height="5.65" fill="#26a69a"/><line x1="420.03" x2="420.03" y1="173.1" y2="186.25" stroke="#ef5350" stroke-width="1" stroke-opacity="0.62"/><rect x="418.93" y="183.75" width="2.2" height="1.25" fill="#ef5350"/><line x1="423.24" x2="423.24" y1="183.75" y2="211.9" stroke="#ef5350" stroke-width="1" stroke-opacity="0.62"/><rect x="422.14" y="184.4" width="2.2" height="26.60" fill="#ef5350"/><line x1="426.46" x2="426.46" y1="206.0" y2="222.9" stroke="#ef5350" stroke-width="1" stroke-opacity="0.62"/><rect x="425.36" y="211.0" width="2.2" height="8.75" fill="#ef5350"/><line x1="429.67" x2="429.67" y1="208.5" y2="223.5" stroke="#26a69a" stroke-width="1" stroke-opacity="0.62"/><rect x="428.57" y="214.1" width="2.2" height="5.65" fill="#26a69a"/><line x1="432.88" x2="432.88" y1="202.25" y2="225.4" stroke="#ef5350" stroke-width="1" stroke-opacity="0.62"/><rect x="431.78" y="214.1" width="2.2" height="7.50" fill="#ef5350"/><line x1="436.10" x2="436.10" y1="207.25" y2="221.6" stroke="#26a69a" stroke-width="1" stroke-opacity="0.62"/><rect x="435.00" y="208.5" width="2.2" height="13.10" fill="#26a69a"/><line x1="439.31" x2="439.31" y1="207.25" y2="217.9" stroke="#ef5350" stroke-width="1" stroke-opacity="0.62"/><rect x="438.21" y="209.1" width="2.2" height="4.40" fill="#ef5350"/><line x1="442.52" x2="442.52" y1="209.75" y2="226.0" stroke="#ef5350" stroke-width="1" stroke-opacity="0.62"/><rect x="441.42" y="212.25" width="2.2" height="7.50" fill="#ef5350"/><line x1="445.74" x2="445.74" y1="209.75" y2="226.6" stroke="#ef5350" stroke-width="1" stroke-opacity="0.62"/><rect x="444.63" y="219.75" width="2.2" height="5.65" fill="#ef5350"/><line x1="448.95" x2="448.95" y1="214.1" y2="252.25" stroke="#ef5350" stroke-width="1" stroke-opacity="0.62"/><rect x="447.85" y="224.75" width="2.2" height="19.35" fill="#ef5350"/><line x1="452.16" x2="452.16" y1="241.0" y2="252.25" stroke="#ef5350" stroke-width="1" stroke-opacity="0.62"/><rect x="451.06" y="244.1" width="2.2" height="3.80" fill="#ef5350"/><line x1="455.37" x2="455.37" y1="246.6" y2="267.5" stroke="#ef5350" stroke-width="1" stroke-opacity="0.62"/><rect x="454.27" y="247.25" width="2.2" height="12.75" fill="#ef5350"/><line x1="458.59" x2="458.59" y1="253.75" y2="268.75" stroke="#26a69a" stroke-width="1" stroke-opacity="0.62"/><rect x="457.49" y="258.1" width="2.2" height="2.50" fill="#26a69a"/><line x1="461.80" x2="461.80" y1="249.75" y2="261.9" stroke="#26a69a" stroke-width="1" stroke-opacity="0.62"/><rect x="460.70" y="256.9" width="2.2" height="2.50" fill="#26a69a"/><line x1="465.01" x2="465.01" y1="253.5" y2="275.6" stroke="#ef5350" stroke-width="1" stroke-opacity="0.62"/><rect x="463.91" y="254.5" width="2.2" height="3.00" fill="#ef5350"/><line x1="468.23" x2="468.23" y1="247.25" y2="262.5" stroke="#26a69a" stroke-width="1" stroke-opacity="0.62"/><rect x="467.13" y="250.4" width="2.2" height="7.50" fill="#26a69a"/><line x1="471.44" x2="471.44" y1="237.25" y2="251.6" stroke="#26a69a" stroke-width="1" stroke-opacity="0.62"/><rect x="470.34" y="241.0" width="2.2" height="9.40" fill="#26a69a"/><line x1="474.65" x2="474.65" y1="235.4" y2="253.5" stroke="#ef5350" stroke-width="1" stroke-opacity="0.62"/><rect x="473.55" y="236.6" width="2.2" height="16.50" fill="#ef5350"/><line x1="477.87" x2="477.87" y1="244.1" y2="258.75" stroke="#26a69a" stroke-width="1" stroke-opacity="0.62"/><rect x="476.76" y="247.25" width="2.2" height="6.25" fill="#26a69a"/><line x1="481.08" x2="481.08" y1="242.25" y2="251.6" stroke="#26a69a" stroke-width="1" stroke-opacity="0.62"/><rect x="479.98" y="246.6" width="2.2" height="1.30" fill="#26a69a"/><line x1="484.29" x2="484.29" y1="244.1" y2="251.0" stroke="#ef5350" stroke-width="1" stroke-opacity="0.62"/><rect x="483.19" y="246.6" width="2.2" height="1.90" fill="#ef5350"/><line x1="487.50" x2="487.50" y1="246.6" y2="260.0" stroke="#ef5350" stroke-width="1" stroke-opacity="0.62"/><rect x="486.40" y="247.25" width="2.2" height="7.75" fill="#ef5350"/><line x1="490.72" x2="490.72" y1="250.4" y2="262.5" stroke="#26a69a" stroke-width="1" stroke-opacity="0.62"/><rect x="489.62" y="252.5" width="2.2" height="2.50" fill="#26a69a"/><line x1="493.93" x2="493.93" y1="250.4" y2="263.0" stroke="#ef5350" stroke-width="1" stroke-opacity="0.62"/><rect x="492.83" y="252.5" width="2.2" height="10.00" fill="#ef5350"/><line x1="497.14" x2="497.14" y1="243.5" y2="267.5" stroke="#ef5350" stroke-width="1" stroke-opacity="0.62"/><rect x="496.04" y="259.4" width="2.2" height="7.50" fill="#ef5350"/><line x1="500.36" x2="500.36" y1="263.75" y2="310.0" stroke="#ef5350" stroke-width="1" stroke-opacity="0.62"/><rect x="499.26" y="266.9" width="2.2" height="35.60" fill="#ef5350"/><line x1="503.57" x2="503.57" y1="298.75" y2="321.9" stroke="#ef5350" stroke-width="1" stroke-opacity="0.62"/><rect x="502.47" y="301.25" width="2.2" height="12.50" fill="#ef5350"/><line x1="506.78" x2="506.78" y1="300.6" y2="317.5" stroke="#26a69a" stroke-width="1" stroke-opacity="0.62"/><rect x="505.68" y="302.5" width="2.2" height="11.25" fill="#26a69a"/><line x1="510.00" x2="510.00" y1="293.1" y2="331.25" stroke="#26a69a" stroke-width="1" stroke-opacity="0.62"/><rect x="508.89" y="300.0" width="2.2" height="3.75" fill="#26a69a"/><line x1="513.21" x2="513.21" y1="293.1" y2="307.5" stroke="#26a69a" stroke-width="1" stroke-opacity="0.62"/><rect x="512.11" y="297.5" width="2.2" height="3.10" fill="#26a69a"/><line x1="516.42" x2="516.42" y1="281.9" y2="303.75" stroke="#ef5350" stroke-width="1" stroke-opacity="0.62"/><rect x="515.32" y="297.5" width="2.2" height="1.90" fill="#ef5350"/><line x1="519.63" x2="519.63" y1="295.0" y2="309.4" stroke="#26a69a" stroke-width="1" stroke-opacity="0.62"/><rect x="518.53" y="295.6" width="2.2" height="3.80" fill="#26a69a"/><line x1="522.85" x2="522.85" y1="289.4" y2="303.75" stroke="#26a69a" stroke-width="1" stroke-opacity="0.62"/><rect x="521.75" y="291.25" width="2.2" height="5.00" fill="#26a69a"/><line x1="526.06" x2="526.06" y1="283.1" y2="294.4" stroke="#26a69a" stroke-width="1" stroke-opacity="0.62"/><rect x="524.96" y="288.1" width="2.2" height="3.80" fill="#26a69a"/><line x1="529.27" x2="529.27" y1="286.9" y2="294.4" stroke="#ef5350" stroke-width="1" stroke-opacity="0.62"/><rect x="528.17" y="288.1" width="2.2" height="2.50" fill="#ef5350"/><line x1="532.49" x2="532.49" y1="283.1" y2="300.0" stroke="#26a69a" stroke-width="1" stroke-opacity="0.62"/><rect x="531.39" y="285.0" width="2.2" height="5.60" fill="#26a69a"/><line x1="535.70" x2="535.70" y1="280.0" y2="288.1" stroke="#26a69a" stroke-width="1" stroke-opacity="0.62"/><rect x="534.60" y="283.1" width="2.2" height="2.50" fill="#26a69a"/><line x1="538.91" x2="538.91" y1="281.9" y2="301.25" stroke="#ef5350" stroke-width="1" stroke-opacity="0.62"/><rect x="537.81" y="282.5" width="2.2" height="16.90" fill="#ef5350"/><line x1="542.12" x2="542.12" y1="294.4" y2="303.1" stroke="#26a69a" stroke-width="1" stroke-opacity="0.62"/><rect x="541.02" y="295.0" width="2.2" height="3.75" fill="#26a69a"/><line x1="545.34" x2="545.34" y1="257.5" y2="297.4" stroke="#26a69a" stroke-width="1" stroke-opacity="0.62"/><rect x="544.24" y="260.0" width="2.2" height="35.50" fill="#26a69a"/><line x1="548.55" x2="548.55" y1="256.9" y2="265.6" stroke="#ef5350" stroke-width="1" stroke-opacity="0.62"/><rect x="547.45" y="260.0" width="2.2" height="1.90" fill="#ef5350"/><line x1="551.76" x2="551.76" y1="250.6" y2="263.75" stroke="#26a69a" stroke-width="1" stroke-opacity="0.62"/><rect x="550.66" y="253.75" width="2.2" height="8.15" fill="#26a69a"/><line x1="554.98" x2="554.98" y1="235.0" y2="258.75" stroke="#26a69a" stroke-width="1" stroke-opacity="0.62"/><rect x="553.88" y="240.6" width="2.2" height="13.15" fill="#26a69a"/><line x1="558.19" x2="558.19" y1="226.9" y2="249.4" stroke="#26a69a" stroke-width="1" stroke-opacity="0.62"/><rect x="557.09" y="238.75" width="2.2" height="3.15" fill="#26a69a"/><line x1="561.40" x2="561.40" y1="232.5" y2="246.9" stroke="#26a69a" stroke-width="1" stroke-opacity="0.62"/><rect x="560.30" y="236.25" width="2.2" height="3.75" fill="#26a69a"/><line x1="564.62" x2="564.62" y1="225.0" y2="246.25" stroke="#ef5350" stroke-width="1" stroke-opacity="0.62"/><rect x="563.52" y="236.25" width="2.2" height="8.75" fill="#ef5350"/><line x1="567.83" x2="567.83" y1="240.6" y2="256.9" stroke="#ef5350" stroke-width="1" stroke-opacity="0.62"/><rect x="566.73" y="244.4" width="2.2" height="10.60" fill="#ef5350"/><line x1="571.04" x2="571.04" y1="246.9" y2="258.75" stroke="#ef5350" stroke-width="1" stroke-opacity="0.62"/><rect x="569.94" y="252.5" width="2.2" height="2.50" fill="#ef5350"/><line x1="574.26" x2="574.26" y1="250.0" y2="257.5" stroke="#ef5350" stroke-width="1" stroke-opacity="0.62"/><rect x="573.16" y="252.5" width="2.2" height="3.75" fill="#ef5350"/><line x1="577.47" x2="577.47" y1="249.4" y2="258.75" stroke="#26a69a" stroke-width="1" stroke-opacity="0.62"/><rect x="576.37" y="251.9" width="2.2" height="4.35" fill="#26a69a"/><line x1="580.68" x2="580.68" y1="233.1" y2="252.5" stroke="#26a69a" stroke-width="1" stroke-opacity="0.62"/><rect x="579.58" y="234.4" width="2.2" height="17.50" fill="#26a69a"/><line x1="583.89" x2="583.89" y1="234.4" y2="245.6" stroke="#ef5350" stroke-width="1" stroke-opacity="0.62"/><rect x="582.79" y="235.0" width="2.2" height="6.25" fill="#ef5350"/><line x1="587.11" x2="587.11" y1="238.75" y2="270.0" stroke="#ef5350" stroke-width="1" stroke-opacity="0.62"/><rect x="586.01" y="241.25" width="2.2" height="27.50" fill="#ef5350"/><line x1="590.32" x2="590.32" y1="265.0" y2="276.75" stroke="#ef5350" stroke-width="1" stroke-opacity="0.62"/><rect x="589.22" y="266.25" width="2.2" height="7.25" fill="#ef5350"/><line x1="593.53" x2="593.53" y1="269.4" y2="275.5" stroke="#26a69a" stroke-width="1" stroke-opacity="0.62"/><rect x="592.43" y="271.25" width="2.2" height="2.35" fill="#26a69a"/><line x1="596.75" x2="596.75" y1="271.0" y2="288.6" stroke="#ef5350" stroke-width="1" stroke-opacity="0.62"/><rect x="595.65" y="271.75" width="2.2" height="15.00" fill="#ef5350"/><line x1="599.96" x2="599.96" y1="277.4" y2="298.6" stroke="#ef5350" stroke-width="1" stroke-opacity="0.62"/><rect x="598.86" y="286.1" width="2.2" height="11.90" fill="#ef5350"/><line x1="603.17" x2="603.17" y1="286.1" y2="303.0" stroke="#26a69a" stroke-width="1" stroke-opacity="0.62"/><rect x="602.07" y="286.75" width="2.2" height="10.65" fill="#26a69a"/><line x1="606.38" x2="606.38" y1="279.25" y2="296.1" stroke="#ef5350" stroke-width="1" stroke-opacity="0.62"/><rect x="605.28" y="286.75" width="2.2" height="9.35" fill="#ef5350"/><line x1="609.60" x2="609.60" y1="273.0" y2="318.6" stroke="#26a69a" stroke-width="1" stroke-opacity="0.62"/><rect x="608.50" y="286.75" width="2.2" height="8.75" fill="#26a69a"/><line x1="612.81" x2="612.81" y1="275.0" y2="288.6" stroke="#26a69a" stroke-width="1" stroke-opacity="0.62"/><rect x="611.71" y="279.25" width="2.2" height="7.50" fill="#26a69a"/><line x1="616.02" x2="616.02" y1="271.9" y2="284.25" stroke="#ef5350" stroke-width="1" stroke-opacity="0.62"/><rect x="614.92" y="279.25" width="2.2" height="1.85" fill="#ef5350"/><line x1="619.24" x2="619.24" y1="274.4" y2="296.75" stroke="#ef5350" stroke-width="1" stroke-opacity="0.62"/><rect x="618.14" y="279.9" width="2.2" height="12.50" fill="#ef5350"/><line x1="622.45" x2="622.45" y1="238.1" y2="293.6" stroke="#26a69a" stroke-width="1" stroke-opacity="0.62"/><rect x="621.35" y="246.9" width="2.2" height="44.85" fill="#26a69a"/><line x1="625.66" x2="625.66" y1="231.9" y2="248.75" stroke="#26a69a" stroke-width="1" stroke-opacity="0.62"/><rect x="624.56" y="235.6" width="2.2" height="11.30" fill="#26a69a"/><line x1="628.88" x2="628.88" y1="228.1" y2="245.6" stroke="#ef5350" stroke-width="1" stroke-opacity="0.62"/><rect x="627.78" y="235.6" width="2.2" height="5.00" fill="#ef5350"/><line x1="632.09" x2="632.09" y1="239.4" y2="257.5" stroke="#ef5350" stroke-width="1" stroke-opacity="0.62"/><rect x="630.99" y="240.6" width="2.2" height="12.50" fill="#ef5350"/><line x1="635.30" x2="635.30" y1="251.9" y2="284.25" stroke="#ef5350" stroke-width="1" stroke-opacity="0.62"/><rect x="634.20" y="252.5" width="2.2" height="27.40" fill="#ef5350"/><line x1="638.52" x2="638.52" y1="275.6" y2="285.5" stroke="#26a69a" stroke-width="1" stroke-opacity="0.62"/><rect x="637.42" y="277.4" width="2.2" height="3.10" fill="#26a69a"/><line x1="641.73" x2="641.73" y1="275.0" y2="286.75" stroke="#ef5350" stroke-width="1" stroke-opacity="0.62"/><rect x="640.63" y="277.4" width="2.2" height="7.50" fill="#ef5350"/><line x1="644.94" x2="644.94" y1="276.75" y2="296.1" stroke="#ef5350" stroke-width="1" stroke-opacity="0.62"/><rect x="643.84" y="285.5" width="2.2" height="2.50" fill="#ef5350"/><line x1="648.15" x2="648.15" y1="278.6" y2="289.9" stroke="#26a69a" stroke-width="1" stroke-opacity="0.62"/><rect x="647.05" y="283.0" width="2.2" height="6.25" fill="#26a69a"/><line x1="651.37" x2="651.37" y1="251.25" y2="283.75" stroke="#26a69a" stroke-width="1" stroke-opacity="0.62"/><rect x="650.27" y="256.9" width="2.2" height="26.85" fill="#26a69a"/><line x1="654.58" x2="654.58" y1="256.25" y2="281.25" stroke="#ef5350" stroke-width="1" stroke-opacity="0.62"/><rect x="653.48" y="256.9" width="2.2" height="20.00" fill="#ef5350"/><line x1="657.79" x2="657.79" y1="268.75" y2="286.9" stroke="#ef5350" stroke-width="1" stroke-opacity="0.62"/><rect x="656.69" y="277.5" width="2.2" height="8.10" fill="#ef5350"/><line x1="661.01" x2="661.01" y1="276.9" y2="283.75" stroke="#26a69a" stroke-width="1" stroke-opacity="0.62"/><rect x="659.91" y="282.6" width="2.2" height="1.15" fill="#26a69a"/><line x1="664.22" x2="664.22" y1="278.1" y2="292.5" stroke="#ef5350" stroke-width="1" stroke-opacity="0.62"/><rect x="663.12" y="283.1" width="2.2" height="8.15" fill="#ef5350"/><line x1="667.43" x2="667.43" y1="274.4" y2="292.5" stroke="#26a69a" stroke-width="1" stroke-opacity="0.62"/><rect x="666.33" y="275.0" width="2.2" height="16.25" fill="#26a69a"/><line x1="670.64" x2="670.64" y1="274.4" y2="288.1" stroke="#ef5350" stroke-width="1" stroke-opacity="0.62"/><rect x="669.54" y="275.0" width="2.2" height="4.40" fill="#ef5350"/><line x1="673.86" x2="673.86" y1="258.75" y2="282.5" stroke="#26a69a" stroke-width="1" stroke-opacity="0.62"/><rect x="672.76" y="263.75" width="2.2" height="14.35" fill="#26a69a"/><line x1="677.07" x2="677.07" y1="260.6" y2="269.4" stroke="#ef5350" stroke-width="1" stroke-opacity="0.62"/><rect x="675.97" y="263.75" width="2.2" height="1.85" fill="#ef5350"/><line x1="680.28" x2="680.28" y1="253.75" y2="270.6" stroke="#26a69a" stroke-width="1" stroke-opacity="0.62"/><rect x="679.18" y="258.1" width="2.2" height="8.15" fill="#26a69a"/><line x1="683.50" x2="683.50" y1="253.1" y2="260.0" stroke="#26a69a" stroke-width="1" stroke-opacity="0.62"/><rect x="682.40" y="253.75" width="2.2" height="5.00" fill="#26a69a"/><line x1="686.71" x2="686.71" y1="253.75" y2="264.4" stroke="#ef5350" stroke-width="1" stroke-opacity="0.62"/><rect x="685.61" y="254.4" width="2.2" height="9.35" fill="#ef5350"/><line x1="689.92" x2="689.92" y1="259.4" y2="266.9" stroke="#ef5350" stroke-width="1" stroke-opacity="0.62"/><rect x="688.82" y="262.5" width="2.2" height="3.10" fill="#ef5350"/><line x1="693.14" x2="693.14" y1="245.0" y2="265.6" stroke="#26a69a" stroke-width="1" stroke-opacity="0.62"/><rect x="692.04" y="253.1" width="2.2" height="11.90" fill="#26a69a"/><line x1="696.35" x2="696.35" y1="248.1" y2="258.1" stroke="#26a69a" stroke-width="1" stroke-opacity="0.62"/><rect x="695.25" y="248.75" width="2.2" height="6.25" fill="#26a69a"/><line x1="699.56" x2="699.56" y1="238.1" y2="250.0" stroke="#26a69a" stroke-width="1" stroke-opacity="0.62"/><rect x="698.46" y="240.0" width="2.2" height="8.75" fill="#26a69a"/><line x1="702.78" x2="702.78" y1="230.6" y2="242.5" stroke="#26a69a" stroke-width="1" stroke-opacity="0.62"/><rect x="701.68" y="236.9" width="2.2" height="4.35" fill="#26a69a"/><line x1="705.99" x2="705.99" y1="233.1" y2="238.75" stroke="#26a69a" stroke-width="1" stroke-opacity="0.62"/><rect x="704.89" y="234.4" width="2.2" height="3.70" fill="#26a69a"/><line x1="709.20" x2="709.20" y1="215.0" y2="236.25" stroke="#26a69a" stroke-width="1" stroke-opacity="0.62"/><rect x="708.10" y="216.25" width="2.2" height="19.35" fill="#26a69a"/><line x1="712.41" x2="712.41" y1="206.9" y2="216.9" stroke="#26a69a" stroke-width="1" stroke-opacity="0.62"/><rect x="711.31" y="213.75" width="2.2" height="3.15" fill="#26a69a"/><line x1="715.63" x2="715.63" y1="207.5" y2="215.0" stroke="#26a69a" stroke-width="1" stroke-opacity="0.62"/><rect x="714.53" y="211.25" width="2.2" height="3.15" fill="#26a69a"/><line x1="718.84" x2="718.84" y1="210.0" y2="219.4" stroke="#ef5350" stroke-width="1" stroke-opacity="0.62"/><rect x="717.74" y="211.25" width="2.2" height="3.75" fill="#ef5350"/><line x1="722.05" x2="722.05" y1="210.6" y2="228.75" stroke="#ef5350" stroke-width="1" stroke-opacity="0.62"/><rect x="720.95" y="214.4" width="2.2" height="13.70" fill="#ef5350"/><line x1="725.27" x2="725.27" y1="216.9" y2="237.5" stroke="#26a69a" stroke-width="1" stroke-opacity="0.62"/><rect x="724.17" y="220.6" width="2.2" height="6.90" fill="#26a69a"/><line x1="728.48" x2="728.48" y1="213.1" y2="226.25" stroke="#ef5350" stroke-width="1" stroke-opacity="0.62"/><rect x="727.38" y="220.6" width="2.2" height="5.00" fill="#ef5350"/><line x1="731.69" x2="731.69" y1="211.25" y2="226.9" stroke="#26a69a" stroke-width="1" stroke-opacity="0.62"/><rect x="730.59" y="218.75" width="2.2" height="5.65" fill="#26a69a"/><line x1="734.90" x2="734.90" y1="216.25" y2="230.0" stroke="#26a69a" stroke-width="1" stroke-opacity="0.62"/><rect x="733.80" y="217.5" width="2.2" height="11.25" fill="#26a69a"/><line x1="738.12" x2="738.12" y1="213.1" y2="228.1" stroke="#ef5350" stroke-width="1" stroke-opacity="0.62"/><rect x="737.02" y="218.1" width="2.2" height="9.40" fill="#ef5350"/><line x1="741.33" x2="741.33" y1="226.9" y2="247.5" stroke="#ef5350" stroke-width="1" stroke-opacity="0.62"/><rect x="740.23" y="227.5" width="2.2" height="18.75" fill="#ef5350"/><line x1="744.54" x2="744.54" y1="240.6" y2="250.6" stroke="#26a69a" stroke-width="1" stroke-opacity="0.62"/><rect x="743.44" y="243.75" width="2.2" height="3.75" fill="#26a69a"/><line x1="747.76" x2="747.76" y1="240.6" y2="255.0" stroke="#ef5350" stroke-width="1" stroke-opacity="0.62"/><rect x="746.66" y="244.4" width="2.2" height="9.35" fill="#ef5350"/><line x1="750.97" x2="750.97" y1="249.4" y2="255.0" stroke="#26a69a" stroke-width="1" stroke-opacity="0.62"/><rect x="749.87" y="250.0" width="2.2" height="4.40" fill="#26a69a"/><line x1="754.18" x2="754.18" y1="244.75" y2="256.0" stroke="#ef5350" stroke-width="1" stroke-opacity="0.62"/><rect x="753.08" y="250.4" width="2.2" height="5.00" fill="#ef5350"/><line x1="757.40" x2="757.40" y1="252.9" y2="279.1" stroke="#ef5350" stroke-width="1" stroke-opacity="0.62"/><rect x="756.30" y="256.0" width="2.2" height="21.25" fill="#ef5350"/><line x1="760.61" x2="760.61" y1="267.25" y2="278.5" stroke="#26a69a" stroke-width="1" stroke-opacity="0.62"/><rect x="759.51" y="271.6" width="2.2" height="5.65" fill="#26a69a"/><line x1="763.82" x2="763.82" y1="259.75" y2="276.6" stroke="#26a69a" stroke-width="1" stroke-opacity="0.62"/><rect x="762.72" y="262.25" width="2.2" height="11.25" fill="#26a69a"/><line x1="767.04" x2="767.04" y1="260.4" y2="276.0" stroke="#ef5350" stroke-width="1" stroke-opacity="0.62"/><rect x="765.94" y="263.5" width="2.2" height="10.00" fill="#ef5350"/><line x1="770.25" x2="770.25" y1="266.0" y2="274.1" stroke="#26a69a" stroke-width="1" stroke-opacity="0.62"/><rect x="769.15" y="266.6" width="2.2" height="6.90" fill="#26a69a"/><line x1="773.46" x2="773.46" y1="267.25" y2="272.9" stroke="#ef5350" stroke-width="1" stroke-opacity="0.62"/><rect x="772.36" y="267.9" width="2.2" height="4.35" fill="#ef5350"/><line x1="776.67" x2="776.67" y1="267.9" y2="272.25" stroke="#ef5350" stroke-width="1" stroke-opacity="0.62"/><rect x="775.57" y="269.1" width="2.2" height="1.30" fill="#ef5350"/></g>
<polyline points="6.80,373.40 8.80,375.70 14.60,373.80 18.50,388.00 21.10,383.10 24.40,397.80 27.90,387.40 34.10,390.00 37.40,402.20 40.90,401.70 43.90,391.90 50.70,386.10 53.60,386.60 59.50,373.80 62.80,412.80 66.30,416.30 69.20,415.30 73.10,422.50 78.90,415.30 82.80,420.20 85.80,408.50 89.30,402.20 94.50,406.90 98.00,401.70 101.40,408.10 104.30,428.90 108.20,438.70 111.50,422.50 114.60,415.90 117.90,423.70 122.80,423.70 130.20,430.30 133.50,427.60 136.50,416.30 140.00,393.90 143.90,396.40 150.10,390.00 153.00,382.20 155.90,369.90 159.80,378.80 163.40,378.30 166.70,375.30 168.90,377.30 172.40,368.90 175.70,377.90 179.60,374.40 182.50,374.40 185.50,362.10 189.40,367.20 194.20,364.60 197.20,359.40 201.10,354.90 204.60,380.20 207.90,388.00 210.80,386.10 213.70,388.40 217.20,380.80 220.60,394.80 223.90,405.00 230.30,390.50 234.20,393.30 239.70,397.40 243.00,388.60 246.50,390.50 249.20,398.70 253.10,401.70 256.60,398.30 259.50,390.90 262.50,375.30 265.40,378.80 268.70,391.30 272.20,392.50 275.10,395.80 278.10,394.40 281.40,390.00 284.90,405.60 288.20,418.60 291.30,417.80 294.60,431.90 297.60,425.00 300.90,416.70 303.80,420.60 307.30,429.90 310.20,423.70 314.10,425.00 316.70,415.30 320.00,434.20 323.90,428.90 327.20,417.30 330.30,415.30 333.60,418.20 336.10,417.20 339.20,419.90 342.30,431.50 345.80,444.40 348.80,442.80 351.90,437.70 354.60,436.60 358.00,437.00 362.10,446.50 365.20,447.30 368.50,432.50 372.00,429.50 374.60,440.30 377.50,430.90 380.80,428.40 384.20,433.60 387.30,437.70 390.80,433.60 393.90,434.20 397.50,432.10 400.60,419.90 403.70,420.70 407.40,408.00 410.80,408.40 413.50,410.40 417.00,408.00 419.60,408.40 423.10,426.40 426.20,432.10 429.30,427.40 432.70,430.90 435.80,420.30 438.50,422.30 442.20,427.40 445.60,430.90 448.70,441.70 451.80,443.80 454.80,449.30 457.90,448.50 461.00,446.90 464.10,446.90 467.70,436.60 471.20,426.40 474.30,433.60 477.80,429.50 481.50,429.50 483.90,430.10 487.20,435.00 490.30,433.60 493.70,438.70 496.80,443.80 499.30,462.90 502.90,466.10 506.80,454.30 510.00,450.00 513.20,446.80 515.80,447.50 519.70,442.50 525.00,432.90 528.20,434.00 531.90,428.20 534.70,425.40 537.90,437.60 541.70,432.90 545.00,397.50 547.50,398.60 554.60,384.70 560.40,381.40 566.80,399.70 573.30,402.90 576.90,399.70 580.10,385.70 583.30,392.20 586.80,417.90 590.40,421.10 593.20,421.10 599.40,437.60 602.20,427.50 605.80,432.90 611.90,416.80 615.50,417.50 618.90,426.50 621.90,392.60 625.10,387.40 628.40,391.10 631.10,399.70 634.80,417.50 637.60,416.20 641.90,421.10 644.40,423.30 647.70,417.90 651.10,400.70 654.70,413.60 658.40,416.80 660.70,416.20 663.20,421.70 666.90,410.40 669.60,411.90 672.90,402.50 675.40,404.00 678.90,399.70 682.10,396.90 686.20,402.90 688.90,404.60 692.20,396.90 695.40,393.90 699.00,387.40 701.80,386.20 705.00,384.70 708.20,373.30 711.50,371.80 714.70,370.30 717.90,375.40 721.70,390.00 724.80,385.70 728.20,389.60 731.80,385.70 734.00,385.30 737.20,397.50 740.40,414.70 743.60,413.20 747.30,421.10 750.10,417.50 753.30,421.10 756.50,437.20 759.70,433.30 763.30,423.30 766.60,429.70 769.80,424.30 775.80,426.00" fill="none" stroke="#7e57c2" stroke-width="1.5" stroke-linejoin="round"/>
<path d="M594.7,166.1 H675.4 Q679.9,166.1 679.9,170.6 V189.3 Q679.9,193.8 675.4,193.8 H638.7 L628,215.25 L629.8,193.8 H594.7 Q590.2,193.8 590.2,189.3 V170.6 Q590.2,166.1 594.7,166.1 Z" fill="#ffffff" stroke="#b03a3a" stroke-width="1.1"/>
<text x="597.50" y="179.80" font-size="8.2" fill="#b03a3a" textLength="58.90" lengthAdjust="spacingAndGlyphs">Resistance line of</text>
<text x="597.50" y="187.00" font-size="8.2" fill="#b03a3a" textLength="75.30" lengthAdjust="spacingAndGlyphs">the ascending channel</text>
<path d="M660.4,321.3 H677.6 L676.5,311.6 L687.7,321.3 H706.3 Q710.8,321.3 710.8,325.8 V337.7 Q710.8,342.2 706.3,342.2 H660.4 Q655.9,342.2 655.9,337.7 V325.8 Q655.9,321.3 660.4,321.3 Z" fill="#ffffff" stroke="#b03a3a" stroke-width="1.1"/>
<text x="662.50" y="334.40" font-size="8.2" fill="#b03a3a" textLength="41.00" lengthAdjust="spacingAndGlyphs">Support line</text>
<path d="M565.00,195.40 C569.25,195.30 582.55,194.72 590.50,194.80 C598.45,194.88 605.55,195.45 612.70,195.90 C619.85,196.35 627.03,196.83 633.40,197.50 C639.77,198.17 644.80,199.15 650.90,199.90 C657.00,200.65 664.90,201.52 670.00,202.00 C675.10,202.48 679.58,202.67 681.50,202.80" fill="none" stroke="#0b7d69" stroke-width="2.3" stroke-linejoin="round"/>
<rect x="6.5" y="17.3" width="867.0" height="472.7" fill="none" stroke="#e0e3eb" stroke-width="1"/>
<rect x="829.5" y="17.3" width="44.0" height="472.7" fill="#ffffff" stroke="none"/>
<line x1="829.5" x2="829.5" y1="17.3" y2="490.0" stroke="#e0e3eb" stroke-width="1"/>
<line x1="873.5" x2="873.5" y1="17.3" y2="490.0" stroke="#e0e3eb" stroke-width="1"/>
<line x1="6.5" x2="873.5" y1="348.5" y2="348.5" stroke="#d6d8de" stroke-width="1"/>
<line x1="6.5" x2="873.5" y1="473.4" y2="473.4" stroke="#e0e3eb" stroke-width="1"/>
<line x1="6.5" x2="873.5" y1="490.0" y2="490.0" stroke="#e0e3eb" stroke-width="1"/>
<line x1="829.5" x2="873.5" y1="17.3" y2="17.3" stroke="#e0e3eb" stroke-width="1"/>
<text x="835.80" y="48.91" font-size="8.5" fill="#434651" textLength="30.60" lengthAdjust="spacingAndGlyphs">67500.00</text>
<text x="835.80" y="69.52" font-size="8.5" fill="#434651" textLength="30.60" lengthAdjust="spacingAndGlyphs">65000.00</text>
<text x="835.80" y="90.13" font-size="8.5" fill="#434651" textLength="30.60" lengthAdjust="spacingAndGlyphs">62500.00</text>
<text x="835.80" y="110.74" font-size="8.5" fill="#434651" textLength="30.60" lengthAdjust="spacingAndGlyphs">60000.00</text>
<text x="835.80" y="131.35" font-size="8.5" fill="#434651" textLength="30.60" lengthAdjust="spacingAndGlyphs">57500.00</text>
<text x="835.80" y="151.96" font-size="8.5" fill="#434651" textLength="30.60" lengthAdjust="spacingAndGlyphs">55000.00</text>
<text x="835.80" y="172.57" font-size="8.5" fill="#434651" textLength="30.60" lengthAdjust="spacingAndGlyphs">52500.00</text>
<text x="835.80" y="193.18" font-size="8.5" fill="#434651" textLength="30.60" lengthAdjust="spacingAndGlyphs">50000.00</text>
<text x="835.80" y="213.79" font-size="8.5" fill="#434651" textLength="30.60" lengthAdjust="spacingAndGlyphs">47500.00</text>
<text x="835.80" y="234.40" font-size="8.5" fill="#434651" textLength="30.60" lengthAdjust="spacingAndGlyphs">45000.00</text>
<text x="835.80" y="296.23" font-size="8.5" fill="#434651" textLength="30.60" lengthAdjust="spacingAndGlyphs">37500.00</text>
<text x="835.80" y="316.84" font-size="8.5" fill="#434651" textLength="30.60" lengthAdjust="spacingAndGlyphs">35000.00</text>
<text x="835.80" y="337.45" font-size="8.5" fill="#434651" textLength="30.60" lengthAdjust="spacingAndGlyphs">32500.00</text>
<text x="835.80" y="28.30" font-size="8.5" fill="#434651" textLength="30.60" lengthAdjust="spacingAndGlyphs">70000.00</text>
<text x="835.80" y="354.50" font-size="8.5" fill="#434651" textLength="19.60" lengthAdjust="spacingAndGlyphs">80.00</text>
<text x="835.80" y="373.73" font-size="8.5" fill="#434651" textLength="19.60" lengthAdjust="spacingAndGlyphs">70.00</text>
<text x="835.80" y="392.96" font-size="8.5" fill="#434651" textLength="19.60" lengthAdjust="spacingAndGlyphs">60.00</text>
<text x="835.80" y="412.19" font-size="8.5" fill="#434651" textLength="19.60" lengthAdjust="spacingAndGlyphs">50.00</text>
<text x="835.80" y="450.65" font-size="8.5" fill="#434651" textLength="19.60" lengthAdjust="spacingAndGlyphs">30.00</text>
<text x="835.80" y="469.88" font-size="8.5" fill="#434651" textLength="19.60" lengthAdjust="spacingAndGlyphs">20.00</text>
<text x="37.70" y="484.90" font-size="8.3" fill="#434651" textLength="12.40" lengthAdjust="spacingAndGlyphs">Sep</text>
<text x="134.40" y="484.90" font-size="8.3" fill="#434651" textLength="11.60" lengthAdjust="spacingAndGlyphs">Oct</text>
<text x="234.00" y="484.90" font-size="8.3" fill="#434651" textLength="12.20" lengthAdjust="spacingAndGlyphs">Nov</text>
<text x="330.10" y="484.90" font-size="8.3" fill="#434651" textLength="12.20" lengthAdjust="spacingAndGlyphs">Dec</text>
<text x="427.20" y="484.90" font-size="8.3" fill="#434651" textLength="17.00" lengthAdjust="spacingAndGlyphs" font-weight="bold">2022</text>
<text x="528.60" y="484.90" font-size="8.3" fill="#434651" textLength="12.90" lengthAdjust="spacingAndGlyphs">Feb</text>
<text x="618.60" y="484.90" font-size="8.3" fill="#434651" textLength="12.70" lengthAdjust="spacingAndGlyphs">Mar</text>
<text x="718.90" y="484.90" font-size="8.3" fill="#434651" textLength="11.80" lengthAdjust="spacingAndGlyphs">Apr</text>
<text x="813.90" y="484.90" font-size="8.3" fill="#434651" textLength="13.30" lengthAdjust="spacingAndGlyphs">May</text>
<rect x="840.4" y="21.6" width="22.2" height="10.6" rx="2.5" fill="#ffffff" stroke="#d1d4dc" stroke-width="0.8"/>
<text x="842.70" y="30.00" font-size="8.2" fill="#434651" textLength="17.50" lengthAdjust="spacingAndGlyphs">USDT</text>
<rect x="811.80" y="200.9" width="17.70" height="10.50" rx="1.5" fill="#0b8a74"/><rect x="829.5" y="200.9" width="40.90" height="10.50" rx="1.5" fill="#0b8a74"/><line x1="829.5" x2="829.5" y1="200.9" y2="211.4" stroke="#ffffff" stroke-opacity="0.35" stroke-width="0.8"/>
<text x="814.60" y="209.30" font-size="8.5" fill="#ffffff" textLength="11.00" lengthAdjust="spacingAndGlyphs">MA</text>
<text x="835.80" y="209.30" font-size="8.5" fill="#ffffff" textLength="30.90" lengthAdjust="spacingAndGlyphs">48136.24</text>
<rect x="812.00" y="240.0" width="17.50" height="10.20" rx="1.5" fill="#f23b2f"/><rect x="829.5" y="240.0" width="40.90" height="10.20" rx="1.5" fill="#f23b2f"/><line x1="829.5" x2="829.5" y1="240.0" y2="250.2" stroke="#ffffff" stroke-opacity="0.35" stroke-width="0.8"/>
<text x="815.20" y="248.40" font-size="8.5" fill="#ffffff" textLength="10.60" lengthAdjust="spacingAndGlyphs">MA</text>
<text x="835.80" y="248.40" font-size="8.5" fill="#ffffff" textLength="31.10" lengthAdjust="spacingAndGlyphs">42151.70</text>
<rect x="807.50" y="250.4" width="22.00" height="10.40" rx="1.5" fill="#14339e"/><rect x="829.5" y="250.4" width="40.90" height="10.40" rx="1.5" fill="#14339e"/><line x1="829.5" x2="829.5" y1="250.4" y2="260.8" stroke="#ffffff" stroke-opacity="0.35" stroke-width="0.8"/>
<text x="810.90" y="258.90" font-size="8.5" fill="#ffffff" textLength="14.60" lengthAdjust="spacingAndGlyphs">EMA</text>
<text x="835.80" y="258.90" font-size="8.5" fill="#ffffff" textLength="31.10" lengthAdjust="spacingAndGlyphs">42085.89</text>
<rect x="791.00" y="264.4" width="38.50" height="10.20" rx="1.5" fill="#ef5350"/><rect x="829.5" y="264.4" width="40.90" height="19.10" rx="1.5" fill="#ef5350"/><line x1="829.5" x2="829.5" y1="264.4" y2="283.5" stroke="#ffffff" stroke-opacity="0.35" stroke-width="0.8"/>
<text x="794.50" y="272.80" font-size="8.5" fill="#ffffff" textLength="29.80" lengthAdjust="spacingAndGlyphs">BTCUSDT</text>
<text x="835.80" y="272.80" font-size="8.5" fill="#ffffff" textLength="31.10" lengthAdjust="spacingAndGlyphs">40375.78</text>
<text x="836.20" y="281.60" font-size="8.5" fill="#ffffff" textLength="27.90" lengthAdjust="spacingAndGlyphs">12:42:41</text>
<rect x="811.20" y="420.9" width="18.30" height="10.50" rx="1.5" fill="#7e57c2"/><rect x="829.5" y="420.9" width="28.80" height="10.50" rx="1.5" fill="#7e57c2"/><line x1="829.5" x2="829.5" y1="420.9" y2="431.4" stroke="#ffffff" stroke-opacity="0.35" stroke-width="0.8"/>
<text x="815.00" y="429.30" font-size="8.5" fill="#ffffff" textLength="10.30" lengthAdjust="spacingAndGlyphs">RSI</text>
<text x="835.50" y="429.30" font-size="8.5" fill="#ffffff" textLength="18.70" lengthAdjust="spacingAndGlyphs">41.31</text>
<text x="6.60" y="12.00" font-size="8.6" fill="#434651" textLength="226.60" lengthAdjust="spacingAndGlyphs">ranadagger published on TradingView.com, Apr 17, 2022 11:17 UTC</text>
<text x="11.60" y="28.90" font-size="7.8" fill="#50535e" textLength="109.50" lengthAdjust="spacingAndGlyphs">Bitcoin / TetherUS, 1D, BINANCE</text>
<text x="126.60" y="28.90" font-size="7.8" fill="#50535e" textLength="4.60" lengthAdjust="spacingAndGlyphs">O</text>
<text x="131.40" y="28.90" font-size="7.8" fill="#ef5350" textLength="30.70" lengthAdjust="spacingAndGlyphs">40378.70</text>
<text x="166.80" y="28.90" font-size="7.8" fill="#50535e" textLength="4.50" lengthAdjust="spacingAndGlyphs">H</text>
<text x="171.60" y="28.90" font-size="7.8" fill="#ef5350" textLength="30.00" lengthAdjust="spacingAndGlyphs">40529.79</text>
<text x="207.10" y="28.90" font-size="7.8" fill="#50535e" textLength="3.80" lengthAdjust="spacingAndGlyphs">L</text>
<text x="211.50" y="28.90" font-size="7.8" fill="#ef5350" textLength="29.10" lengthAdjust="spacingAndGlyphs">40122.05</text>
<text x="245.50" y="28.90" font-size="7.8" fill="#50535e" textLength="4.30" lengthAdjust="spacingAndGlyphs">C</text>
<text x="249.80" y="28.90" font-size="7.8" fill="#ef5350" textLength="30.50" lengthAdjust="spacingAndGlyphs">40375.78</text>
<text x="285.30" y="28.90" font-size="7.8" fill="#ef5350" textLength="48.30" lengthAdjust="spacingAndGlyphs">−2.93 (−0.01%)</text>
<text x="11.30" y="39.80" font-size="7.8" fill="#50535e" textLength="56.50" lengthAdjust="spacingAndGlyphs">MA (50, close, 0)</text>
<text x="73.00" y="39.80" font-size="7.8" fill="#f23b2f" textLength="30.70" lengthAdjust="spacingAndGlyphs">42151.70</text>
<text x="11.30" y="50.50" font-size="7.8" fill="#50535e" textLength="60.60" lengthAdjust="spacingAndGlyphs">EMA (20, close, 0)</text>
<text x="77.10" y="50.50" font-size="7.8" fill="#2a45b0" textLength="30.00" lengthAdjust="spacingAndGlyphs">42085.89</text>
<text x="11.30" y="61.20" font-size="7.8" fill="#50535e" textLength="60.70" lengthAdjust="spacingAndGlyphs">MA (200, close, 0)</text>
<text x="77.10" y="61.20" font-size="7.8" fill="#0b8a74" textLength="30.20" lengthAdjust="spacingAndGlyphs">48136.24</text>
<text x="11.70" y="361.40" font-size="7.8" fill="#50535e" textLength="46.80" lengthAdjust="spacingAndGlyphs">RSI (14, close)</text>
<text x="64.30" y="361.40" font-size="7.8" fill="#7e57c2" textLength="18.00" lengthAdjust="spacingAndGlyphs">41.31</text>
<g fill="#131722"><path d="M6.0,498.5 H11.1 V504.7 H8.7 V500.8 H6.0 Z"/><circle cx="12.9" cy="499.7" r="1.15"/><path d="M15.3,498.5 H18.4 L15.7,504.7 H13.0 Z"/></g>
<text x="21.30" y="504.70" font-size="8.8" fill="#50535e" textLength="43.40" lengthAdjust="spacingAndGlyphs">TradingView</text>
</svg>
</body></html>
